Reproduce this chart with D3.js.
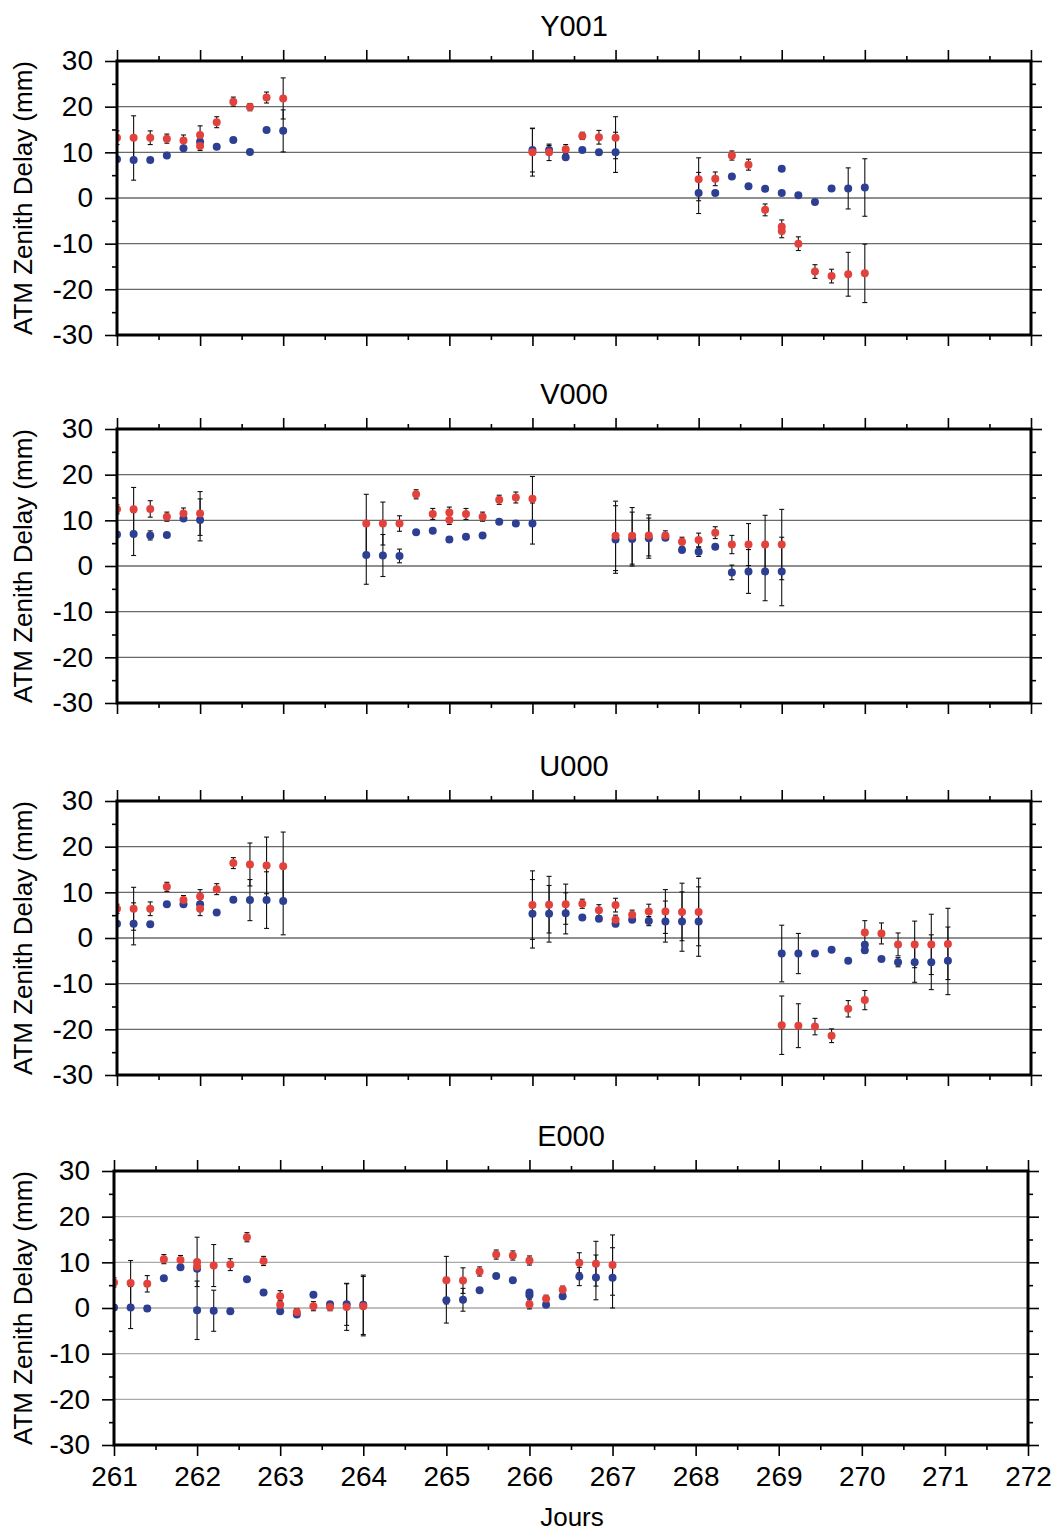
<!DOCTYPE html>
<html>
<head>
<meta charset="utf-8">
<script src="https://cdn.jsdelivr.net/npm/d3@7/dist/d3.min.js"></script>
<style>
  html, body { margin: 0; padding: 0; background: #fff; }
  svg { display: block; font-family: "Liberation Sans", Arial, Helvetica, sans-serif; }
</style>
</head>
<body>
<script>
// ---------------- DATA ----------------
const stations = ["Y001", "V000", "U000", "E000"];
const xTickValues = [261, 262, 263, 264, 265, 266, 267, 268, 269, 270, 271, 272];
const yTickValues = [-30, -20, -10, 0, 10, 20, 30];
const yLabel = "ATM Zenith Delay (mm)";
const xLabel = "Jours";

// each entry: [day, value (mm), error (mm)]
const y001Red = [
  [261.0, 13.2, 1.5], [261.2, 13.2, 4.8], [261.4, 13.2, 1.5], [261.6, 13.0, 1.0], [261.8, 12.6, 1.2],
  [262.0, 13.8, 2.0], [262.0, 11.4, 1.0], [262.2, 16.6, 1.2], [262.4, 21.1, 1.0], [262.6, 19.9, 0.8],
  [262.8, 22.0, 1.2], [263.0, 21.8, 4.5],
  [266.0, 10.0, 5.2], [266.2, 10.0, 1.8], [266.4, 10.7, 1.0], [266.6, 13.6, 0.8], [266.8, 13.3, 1.5],
  [267.0, 13.2, 4.6],
  [268.0, 4.1, 4.7], [268.2, 4.2, 1.5], [268.4, 9.3, 1.0], [268.6, 7.3, 1.2], [268.8, -2.6, 1.3],
  [269.0, -6.3, 1.5], [269.0, -7.2, 1.5], [269.2, -10.0, 1.5], [269.4, -16.1, 1.5], [269.6, -17.1, 1.5],
  [269.8, -16.7, 4.8], [270.0, -16.5, 6.4]
];
const y001Blue = [
  [261.0, 8.5, 0.5], [261.2, 8.3, 4.4], [261.4, 8.3, 0.5], [261.6, 9.3, 0.5], [261.8, 10.9, 0.5],
  [262.0, 12.3, 0.8], [262.2, 11.2, 0.5], [262.4, 12.7, 0.5], [262.6, 10.1, 0.5], [262.8, 14.9, 0.5],
  [263.0, 14.7, 4.6],
  [266.0, 10.5, 4.8], [266.2, 10.5, 1.0], [266.4, 8.9, 0.5], [266.6, 10.5, 0.5], [266.8, 10.0, 0.5],
  [267.0, 10.0, 4.4],
  [268.0, 1.1, 4.5], [268.2, 1.1, 0.5], [268.4, 4.7, 0.5], [268.6, 2.6, 0.5], [268.8, 2.0, 0.5],
  [269.0, 6.4, 0.5], [269.0, 1.1, 0.5], [269.2, 0.6, 0.5], [269.4, -0.9, 0.5], [269.6, 2.1, 0.5],
  [269.8, 2.1, 4.5], [270.0, 2.3, 6.3]
];

const v000Red = [
  [261.0, 12.4, 1.0], [261.2, 12.4, 4.8], [261.4, 12.5, 1.8], [261.6, 10.8, 1.0], [261.8, 11.5, 1.2],
  [262.0, 11.5, 4.8],
  [264.0, 9.3, 6.4], [264.2, 9.3, 4.7], [264.4, 9.3, 1.7], [264.6, 15.7, 1.0], [264.8, 11.4, 1.2],
  [265.0, 11.7, 1.2], [265.0, 10.1, 1.0], [265.2, 11.4, 1.2], [265.4, 10.8, 1.0], [265.6, 14.5, 1.0],
  [265.8, 15.0, 1.2], [266.0, 14.7, 4.9],
  [267.0, 6.6, 7.6], [267.2, 6.6, 6.2], [267.4, 6.7, 4.5], [267.6, 6.7, 1.0], [267.8, 5.3, 1.0],
  [268.0, 5.7, 1.5], [268.2, 7.3, 1.3], [268.4, 4.7, 2.0], [268.6, 4.7, 4.6], [268.8, 4.7, 6.4],
  [269.0, 4.7, 7.7]
];
const v000Blue = [
  [261.0, 6.9, 0.5], [261.2, 7.0, 4.7], [261.4, 6.7, 1.0], [261.6, 6.8, 0.5], [261.8, 10.4, 0.5],
  [262.0, 10.1, 4.6],
  [264.0, 2.4, 6.4], [264.2, 2.3, 4.6], [264.4, 2.2, 1.5], [264.6, 7.4, 0.5], [264.8, 7.7, 0.5],
  [265.0, 5.8, 0.6], [265.2, 6.4, 0.5], [265.4, 6.7, 0.5], [265.6, 9.7, 0.5], [265.8, 9.3, 0.5],
  [266.0, 9.3, 4.5],
  [267.0, 5.8, 7.4], [267.2, 5.9, 5.9], [267.4, 6.1, 4.4], [267.6, 6.2, 0.5], [267.8, 3.5, 0.5],
  [268.0, 3.1, 1.0], [268.2, 4.2, 0.5], [268.4, -1.4, 1.6], [268.6, -1.2, 4.8], [268.8, -1.2, 6.4],
  [269.0, -1.2, 7.5]
];

const u000Red = [
  [261.0, 6.4, 1.0], [261.2, 6.4, 4.7], [261.4, 6.4, 1.5], [261.6, 11.2, 1.0], [261.8, 8.3, 1.0],
  [262.0, 9.1, 1.5], [262.0, 6.4, 1.5], [262.2, 10.7, 1.2], [262.4, 16.4, 1.2], [262.6, 16.1, 4.7],
  [262.8, 15.9, 6.2], [263.0, 15.7, 7.5],
  [266.0, 7.2, 7.5], [266.2, 7.3, 6.2], [266.4, 7.4, 4.4], [266.6, 7.5, 1.0], [266.8, 6.1, 1.2],
  [267.0, 7.2, 1.5], [267.0, 4.0, 1.0], [267.2, 5.1, 1.0], [267.4, 5.8, 1.6], [267.6, 5.8, 4.8],
  [267.8, 5.7, 6.3], [268.0, 5.7, 7.4],
  [269.0, -19.1, 6.4], [269.2, -19.2, 4.8], [269.4, -19.4, 1.8], [269.6, -21.4, 1.5], [269.8, -15.5, 1.8],
  [270.0, 1.2, 2.6], [270.0, -13.6, 2.1], [270.2, 1.0, 2.3], [270.4, -1.4, 2.5], [270.6, -1.4, 5.1],
  [270.8, -1.4, 6.6], [271.0, -1.3, 7.8]
];
const u000Blue = [
  [261.0, 3.1, 0.5], [261.2, 3.1, 4.6], [261.4, 3.0, 0.5], [261.6, 7.4, 0.5], [261.8, 7.4, 0.5],
  [262.0, 7.4, 1.5], [262.2, 5.6, 0.5], [262.4, 8.4, 0.5], [262.6, 8.3, 4.5], [262.8, 8.3, 6.2],
  [263.0, 8.1, 7.4],
  [266.0, 5.3, 7.5], [266.2, 5.3, 6.2], [266.4, 5.4, 4.5], [266.6, 4.5, 0.5], [266.8, 4.2, 0.5],
  [267.0, 3.1, 0.6], [267.2, 4.0, 0.5], [267.4, 3.7, 1.0], [267.6, 3.6, 4.5], [267.8, 3.6, 6.5],
  [268.0, 3.6, 7.6],
  [269.0, -3.4, 6.2], [269.2, -3.4, 4.4], [269.4, -3.4, 0.5], [269.6, -2.6, 0.5], [269.8, -5.0, 0.5],
  [270.0, -1.5, 0.6], [270.0, -2.7, 0.6], [270.2, -4.6, 0.5], [270.4, -5.3, 1.0], [270.6, -5.3, 4.4],
  [270.8, -5.3, 6.0], [271.0, -5.0, 7.4]
];

const e000Red = [
  [261.0, 5.6, 1.0], [261.2, 5.5, 4.9], [261.4, 5.3, 1.8], [261.6, 10.7, 1.0], [261.8, 10.5, 1.0],
  [262.0, 10.1, 5.4], [262.0, 9.1, 1.0], [262.2, 9.3, 4.6], [262.4, 9.5, 1.3], [262.6, 15.5, 1.0],
  [262.8, 10.3, 1.0], [263.0, 2.6, 1.2], [263.0, 0.7, 1.0], [263.2, -0.9, 0.8], [263.4, 0.4, 1.0],
  [263.6, 0.2, 0.8], [263.8, 0.2, 5.1], [264.0, 0.4, 6.5],
  [265.0, 6.1, 5.2], [265.2, 6.0, 2.8], [265.4, 8.0, 1.0], [265.6, 11.7, 1.0], [265.8, 11.5, 1.0],
  [266.0, 10.4, 1.0], [266.0, 0.8, 1.0], [266.2, 2.0, 0.8], [266.4, 4.0, 0.8], [266.6, 9.9, 2.2],
  [266.8, 9.7, 4.9], [267.0, 9.4, 6.6]
];
const e000Blue = [
  [261.0, 0.1, 0.5], [261.2, 0.1, 4.6], [261.4, -0.1, 0.6], [261.6, 6.5, 0.5], [261.8, 8.9, 0.5],
  [262.0, 8.6, 0.5], [262.0, -0.5, 6.4], [262.2, -0.6, 4.5], [262.4, -0.7, 0.5], [262.6, 6.3, 0.5],
  [262.8, 3.4, 0.5], [263.0, -0.7, 0.5], [263.2, -1.4, 0.5], [263.4, 2.9, 0.5], [263.6, 0.8, 0.5],
  [263.8, 0.8, 4.6], [264.0, 0.7, 6.5],
  [265.0, 1.7, 5.0], [265.2, 1.8, 2.5], [265.4, 3.9, 0.5], [265.6, 7.0, 0.5], [265.8, 6.1, 0.5],
  [266.0, 3.4, 0.5], [266.0, 2.8, 0.5], [266.2, 0.7, 0.5], [266.4, 2.6, 0.5], [266.6, 6.9, 2.0],
  [266.8, 6.7, 4.9], [267.0, 6.6, 6.6]
];

const redSeries = [y001Red, v000Red, u000Red, e000Red];
const blueSeries = [y001Blue, v000Blue, u000Blue, e000Blue];

// ---------------- LAYOUT ----------------
const W = 1056, H = 1531;
const panelTops = [61, 429, 801, 1171];
const panelLefts = [117, 117, 117, 114];
const PW = 914, PH = 274;
const RED = "#e3413b", BLUE = "#2d3f93";
const plainNum = d => String(d);   // hyphen-minus like the reference

const svg = d3.select("body").append("svg").attr("width", W).attr("height", H);
svg.append("rect").attr("width", W).attr("height", H).attr("fill", "#fff");

const minorY = d3.range(-25, 30, 10);
const minorX = d3.range(261.5, 272, 1);

stations.forEach((name, i) => {
  const top = panelTops[i], left = panelLefts[i];
  const x = d3.scaleLinear().domain([261, 272]).range([left, left + PW]);
  const y = d3.scaleLinear().domain([-30, 30]).range([top + PH, top]);
  const g = svg.append("g");

  // gridlines
  g.selectAll("line.grid").data(yTickValues.filter(v => v > -30 && v < 30)).join("line")
    .attr("x1", x(261)).attr("x2", x(272))
    .attr("y1", d => y(d)).attr("y2", d => y(d))
    .attr("stroke", i === 3 ? "#a8a8a8" : "#6a6a6a").attr("stroke-width", 1.4);

  // data
  const clipId = "clip" + i;
  svg.append("clipPath").attr("id", clipId).append("rect")
    .attr("x", x(261)).attr("y", y(30)).attr("width", PW).attr("height", PH);
  const dg = g.append("g").attr("clip-path", `url(#${clipId})`);

  const drawErr = (data) => {
    const eg = dg.append("g").attr("stroke", "#111").attr("stroke-width", 1.1);
    eg.selectAll("line.v").data(data).join("line")
      .attr("x1", d => x(d[0])).attr("x2", d => x(d[0]))
      .attr("y1", d => y(d[1] - d[2])).attr("y2", d => y(d[1] + d[2]));
    eg.selectAll("line.t").data(data).join("line")
      .attr("x1", d => x(d[0]) - 2.5).attr("x2", d => x(d[0]) + 2.5)
      .attr("y1", d => y(d[1] + d[2])).attr("y2", d => y(d[1] + d[2]));
    eg.selectAll("line.b").data(data).join("line")
      .attr("x1", d => x(d[0]) - 2.5).attr("x2", d => x(d[0]) + 2.5)
      .attr("y1", d => y(d[1] - d[2])).attr("y2", d => y(d[1] - d[2]));
  };
  drawErr(blueSeries[i]);
  drawErr(redSeries[i]);

  dg.append("g").selectAll("circle").data(blueSeries[i]).join("circle")
    .attr("cx", d => x(d[0])).attr("cy", d => y(d[1])).attr("r", 4).attr("fill", BLUE);
  dg.append("g").selectAll("circle").data(redSeries[i]).join("circle")
    .attr("cx", d => x(d[0])).attr("cy", d => y(d[1])).attr("r", 4).attr("fill", RED);

  // axes
  const styleAxis = (sel) => {
    sel.select(".domain").remove();
    sel.selectAll(".tick line").attr("stroke", "#000").attr("stroke-width", 1.6);
  };
  const yl = g.append("g").attr("transform", `translate(${left},0)`)
    .call(d3.axisLeft(y).tickValues(yTickValues).tickSize(12).tickPadding(12).tickFormat(plainNum));
  styleAxis(yl);
  yl.selectAll("text").attr("font-size", 28).attr("fill", "#000")
    .attr("font-family", "'Liberation Sans', Arial, sans-serif");
  styleAxis(g.append("g").attr("transform", `translate(${left},0)`)
    .call(d3.axisLeft(y).tickValues(minorY).tickSize(5).tickFormat("")));
  styleAxis(g.append("g").attr("transform", `translate(${left + PW},0)`)
    .call(d3.axisRight(y).tickValues(yTickValues).tickSize(11).tickFormat("")));
  styleAxis(g.append("g").attr("transform", `translate(${left + PW},0)`)
    .call(d3.axisRight(y).tickValues(minorY).tickSize(5).tickFormat("")));
  styleAxis(g.append("g").attr("transform", `translate(0,${top})`)
    .call(d3.axisTop(x).tickValues(xTickValues).tickSize(11).tickFormat("")));
  styleAxis(g.append("g").attr("transform", `translate(0,${top})`)
    .call(d3.axisTop(x).tickValues(minorX).tickSize(5).tickFormat("")));
  const xb = g.append("g").attr("transform", `translate(0,${top + PH})`)
    .call(d3.axisBottom(x).tickValues(xTickValues).tickSize(11).tickPadding(10)
      .tickFormat(i === 3 ? plainNum : ""));
  styleAxis(xb);
  xb.selectAll("text").attr("font-size", 28).attr("fill", "#000")
    .attr("font-family", "'Liberation Sans', Arial, sans-serif");
  styleAxis(g.append("g").attr("transform", `translate(0,${top + PH})`)
    .call(d3.axisBottom(x).tickValues(minorX).tickSize(5).tickFormat("")));

  // frame
  g.append("rect").attr("x", x(261)).attr("y", y(30)).attr("width", PW).attr("height", PH)
    .attr("fill", "none").attr("stroke", "#000").attr("stroke-width", 3);

  // title
  g.append("text").attr("x", left + PW / 2).attr("y", top - 25)
    .attr("text-anchor", "middle").attr("font-size", 29).attr("fill", "#000").text(name);

  // y label
  g.append("text").attr("transform", `translate(32,${top + PH / 2}) rotate(-90)`)
    .attr("text-anchor", "middle").attr("font-size", 26).attr("fill", "#000").text(yLabel);
});

svg.append("text").attr("x", 572).attr("y", 1526).attr("text-anchor", "middle")
  .attr("font-size", 26).attr("fill", "#000").text(xLabel);
</script>
</body>
</html>
